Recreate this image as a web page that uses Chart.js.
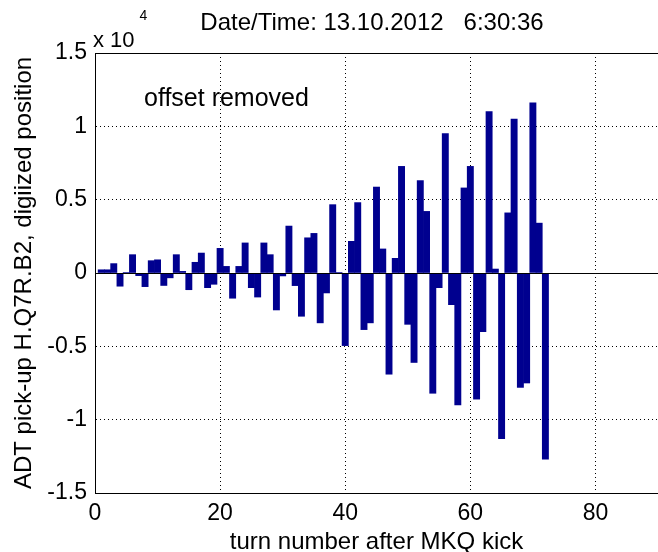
<!DOCTYPE html>
<html>
<head>
<meta charset="utf-8">
<script src="https://cdn.jsdelivr.net/npm/chart.js@4.4.1/dist/chart.umd.min.js"></script>
<style>
  html, body { margin: 0; padding: 0; background: #fff; overflow: hidden; }
  #wrap { width: 658px; height: 552px; }
  #chart { display: block; }
</style>
</head>
<body>
<div id="wrap"><canvas id="chart" width="658" height="552"></canvas></div>
<script>
// =================== DATA (units of 1e4) ===================
const turns = [
  1, 2, 3, 4, 5, 6, 7, 8, 9, 10, 11, 12, 13, 14, 15, 16, 17, 18,
  19, 20, 21, 22, 23, 24, 25, 26, 27, 28, 29, 30, 31, 32, 33, 34, 35, 36,
  37, 38, 39, 40, 41, 42, 43, 44, 45, 46, 47, 48, 49, 50, 51, 52, 53, 54,
  55, 56, 57, 58, 59, 60, 61, 62, 63, 64, 65, 66, 67, 68, 69, 70, 71, 72,
];
const positions = [
  0.022, 0.022, 0.064, -0.09, 0.003, 0.125, -0.018, -0.093, 0.084, 0.09, -0.085, -0.033,
  0.125, 0.011, -0.114, 0.073, 0.136, -0.1, -0.077, 0.168, 0.045, -0.172, 0.045, 0.205,
  -0.1, -0.164, 0.205, 0.125, -0.252, -0.02, 0.32, -0.086, -0.295, 0.24, 0.27, -0.34,
  -0.136, 0.466, 0.003, -0.495, 0.216, 0.48, -0.386, -0.34, 0.586, 0.164, -0.69, 0.1,
  0.727, -0.35, -0.61, 0.63, 0.42, -0.82, -0.1, 0.95, -0.216, -0.9, 0.58, 0.727,
  -0.86, -0.4, 1.1, 0.027, -1.13, 0.41, 1.05, -0.78, -0.75, 1.16, 0.34, -1.27,
];
const xTicks = [0, 20, 40, 60, 80];
const yTicks = [-1.5, -1, -0.5, 0, 0.5, 1, 1.5];

const titleText = "Date/Time: 13.10.2012   6:30:36";
const xLabel = "turn number after MKQ kick";
const yLabel = "ADT pick-up H.Q7R.B2, digiized position";
const noteText = "offset removed";

// =================== STYLE ===================
const FONT = "'Liberation Sans', Arial, Helvetica, sans-serif";
const BAR_COLOR = "#00008f";
const X_MIN = 0, X_MAX = 90;
const Y_MIN = -1.5, Y_MAX = 1.5;

function isEdgeOrZero(value, lo, hi) {
  return value === lo || value === hi || value === 0;
}

// extra text + zero baseline
const extras = {
  id: "extras",
  afterDatasetsDraw(chart) {
    const { ctx, chartArea, scales } = chart;
    const y0 = Math.round(scales.y.getPixelForValue(0)) + 0.5;
    ctx.save();
    ctx.strokeStyle = "#000";
    ctx.lineWidth = 1;
    ctx.beginPath();
    ctx.moveTo(chartArea.left, y0);
    ctx.lineTo(chartArea.right, y0);
    ctx.stroke();
    ctx.restore();
  },
  afterDraw(chart) {
    const { ctx, chartArea } = chart;
    ctx.save();
    ctx.fillStyle = "#000";
    ctx.textBaseline = "alphabetic";

    ctx.font = `24px ${FONT}`;
    ctx.textAlign = "center";
    ctx.fillText(titleText, 372, 30);

    ctx.textAlign = "left";
    ctx.font = `22px ${FONT}`;
    const exp = "x 10";
    ctx.fillText(exp, chartArea.left - 2, 47);
    const w = ctx.measureText(exp).width;
    ctx.font = `14px ${FONT}`;
    ctx.fillText("4", chartArea.left - 2 + w + 5, 20);

    ctx.font = `25px ${FONT}`;
    ctx.fillText(noteText, 144, 106);
    ctx.restore();
  },
};

// =================== CHART ===================
const chart = new Chart(document.getElementById("chart"), {
  type: "bar",
  data: {
    datasets: [
      {
        data: turns.map((t, i) => ({ x: t, y: positions[i] })),
        backgroundColor: BAR_COLOR,
        borderWidth: 0,
        barPercentage: 1,
        categoryPercentage: 1,
      },
    ],
  },
  options: {
    responsive: false,
    animation: false,
    devicePixelRatio: 1,
    layout: { padding: { top: 53, right: 0, bottom: 0, left: 0 } },
    plugins: {
      legend: { display: false },
      tooltip: { enabled: false },
      title: { display: false },
    },
    scales: {
      x: {
        type: "linear",
        min: X_MIN,
        max: X_MAX,
        offset: false,
        grid: {
          offset: false,
          drawTicks: true,
          tickLength: 7,
          tickColor: "rgba(0,0,0,0)",
          color: "#000",
          lineWidth: 1,
        },
        border: {
          display: true,
          color: "#000",
          width: 1,
          dash: (c) => (c.tick && !isEdgeOrZero(c.tick.value, X_MIN, X_MAX) ? [1, 3] : []),
        },
        // the right edge of the box sits just outside the picture in the original
        afterBuildTicks: (scale) => {
          scale.ticks = xTicks.map((v) => ({ value: v }));
        },
        ticks: {
          autoSkip: false,
          maxRotation: 0,
          padding: 0,
          color: "#000",
          font: { family: FONT, size: 23 },
          callback: (v) => String(v),
        },
        title: {
          display: true,
          text: xLabel,
          color: "#000",
          font: { family: FONT, size: 24, lineHeight: 0.8 },
          padding: 0,
        },
        afterFit: (scale) => {
          scale.height = 59;
        },
      },
      y: {
        min: Y_MIN,
        max: Y_MAX,
        grid: {
          drawTicks: false,
          color: "#000",
          lineWidth: 1,
        },
        border: {
          display: true,
          color: "#000",
          width: 1,
          dash: (c) => (c.tick && !isEdgeOrZero(c.tick.value, Y_MIN, Y_MAX) ? [1, 3] : []),
        },
        afterBuildTicks: (scale) => {
          scale.ticks = yTicks.map((v) => ({ value: v }));
        },
        ticks: {
          autoSkip: false,
          padding: 8,
          color: "#000",
          font: { family: FONT, size: 23 },
          callback: (v) => String(v),
        },
        title: {
          display: true,
          text: yLabel,
          color: "#000",
          font: { family: FONT, size: 24 },
          padding: { top: 10, bottom: 0 },
        },
        afterFit: (scale) => {
          scale.width = 95;
        },
      },
    },
  },
  plugins: [extras],
});
</script>
</body>
</html>
